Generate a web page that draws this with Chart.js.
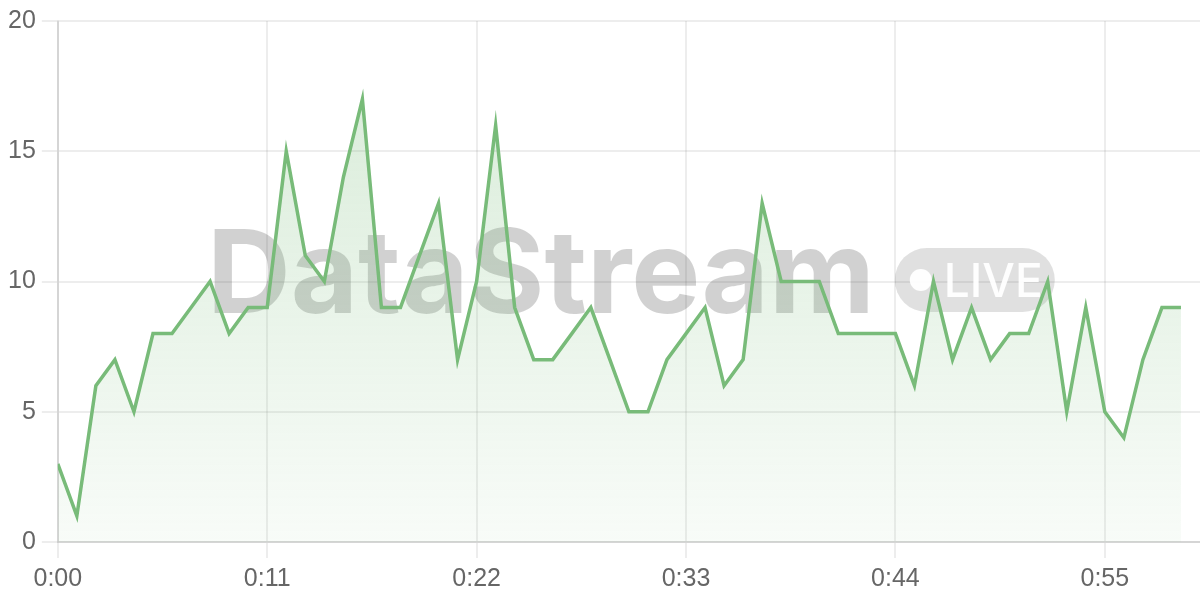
<!DOCTYPE html>
<html>
<head>
<meta charset="utf-8">
<title>DataStream</title>
<script src="https://cdn.jsdelivr.net/npm/chart.js@4/dist/chart.umd.min.js"></script>
<style>
    html, body { margin: 0; padding: 0; background: #fff; }
    #wrap { width: 1200px; height: 600px; }
</style>
</head>
<body>
<div id="wrap"><canvas id="streamChart"></canvas></div>
<script>
// valores lidos por segundo (0:00 .. 0:59)
const values = [
    3, 1, 6, 7, 5, 8, 8, 9, 10, 8,
    9, 9, 15, 11, 10, 14, 17, 9, 9, 11,
    13, 7, 10, 16, 9, 7, 7, 8, 9, 7,
    5, 5, 7, 8, 9, 6, 7, 13, 10, 10,
    10, 8, 8, 8, 8, 6, 10, 7, 9, 7,
    8, 8, 10, 5, 9, 5, 4, 7, 9, 9
];
const seconds = values.map((v, i) => i);
const xTicks = [0, 11, 22, 33, 44, 55];
const yTicks = [0, 5, 10, 15, 20];
const xMax = 60;

const lineColor = '#78bb79';

function fmtTime(s) {
    const m = Math.floor(s / 60);
    const r = s % 60;
    return m + ':' + (r < 10 ? '0' : '') + r;
}

// marca d'agua "DataStream  • LIVE"
const watermark = {
    id: 'watermark',
    beforeDatasetsDraw(chart) {
        const { ctx, chartArea } = chart;
        const cx = (chartArea.left + chartArea.right) / 2;
        const cy = (chartArea.top + chartArea.bottom) / 2;
        ctx.save();
        ctx.font = '700 116px Inter';
        const tw = ctx.measureText('DataStream').width;
        const pillW = 160, pillH = 64, gap = 20;
        const x0 = cx - (tw + gap + pillW) / 2 + 2;
        const pillX = x0 + tw + gap;
        const pillY = cy - 33.5;

        ctx.fillStyle = 'rgba(0,0,0,0.18)';
        ctx.textBaseline = 'alphabetic';
        ctx.textAlign = 'left';
        ctx.fillText('DataStream', x0, pillY + pillH + 1);

        ctx.fillStyle = 'rgba(0,0,0,0.12)';
        ctx.beginPath();
        ctx.roundRect(pillX, pillY, pillW, pillH, pillH / 2);
        ctx.fill();

        ctx.fillStyle = 'rgba(255,255,255,0.95)';
        ctx.beginPath();
        ctx.arc(pillX + 26, pillY + pillH / 2, 11, 0, Math.PI * 2);
        ctx.fill();
        ctx.font = '500 46px Inter';
        ctx.fillText('LIVE', pillX + 49, pillY + 49);
        ctx.restore();
    }
};

const ctx = document.getElementById('streamChart').getContext('2d');
const grad = ctx.createLinearGradient(0, 20, 0, 543);
grad.addColorStop(0, 'rgba(120,188,121,0.30)');
grad.addColorStop(1, 'rgba(120,188,121,0.05)');

new Chart(ctx, {
    type: 'line',
    data: {
        datasets: [{
            data: seconds.map((s, i) => ({ x: s, y: values[i] })),
            borderColor: lineColor,
            borderWidth: 3.5,
            backgroundColor: grad,
            fill: 'origin',
            tension: 0,
            pointRadius: 0
        }]
    },
    options: {
        responsive: true,
        maintainAspectRatio: false,
        animation: false,
        layout: { padding: { top: 6, left: 2 } },
        plugins: {
            legend: { display: false },
            tooltip: { enabled: false }
        },
        scales: {
            x: {
                type: 'linear',
                min: 0,
                max: xMax,
                afterBuildTicks: (scale) => { scale.ticks = xTicks.map(v => ({ value: v })); },
                ticks: {
                    color: '#666',
                    padding: 6,
                    font: { size: 25, family: 'Liberation Sans' },
                    callback: (v) => fmtTime(v)
                },
                grid: { color: 'rgba(0,0,0,0.07)', lineWidth: 2, tickLength: 16 },
                border: { color: 'rgba(0,0,0,0.1)', width: 2 }
            },
            y: {
                min: 0,
                max: 20,
                afterBuildTicks: (scale) => { scale.ticks = yTicks.map(v => ({ value: v })); },
                ticks: {
                    color: '#666',
                    padding: 6,
                    font: { size: 25, family: 'Liberation Sans' }
                },
                grid: { color: 'rgba(0,0,0,0.07)', lineWidth: 2, tickLength: 16 },
                border: { color: 'rgba(0,0,0,0.1)', width: 2 }
            }
        }
    },
    plugins: [watermark]
});
</script>
</body>
</html>
